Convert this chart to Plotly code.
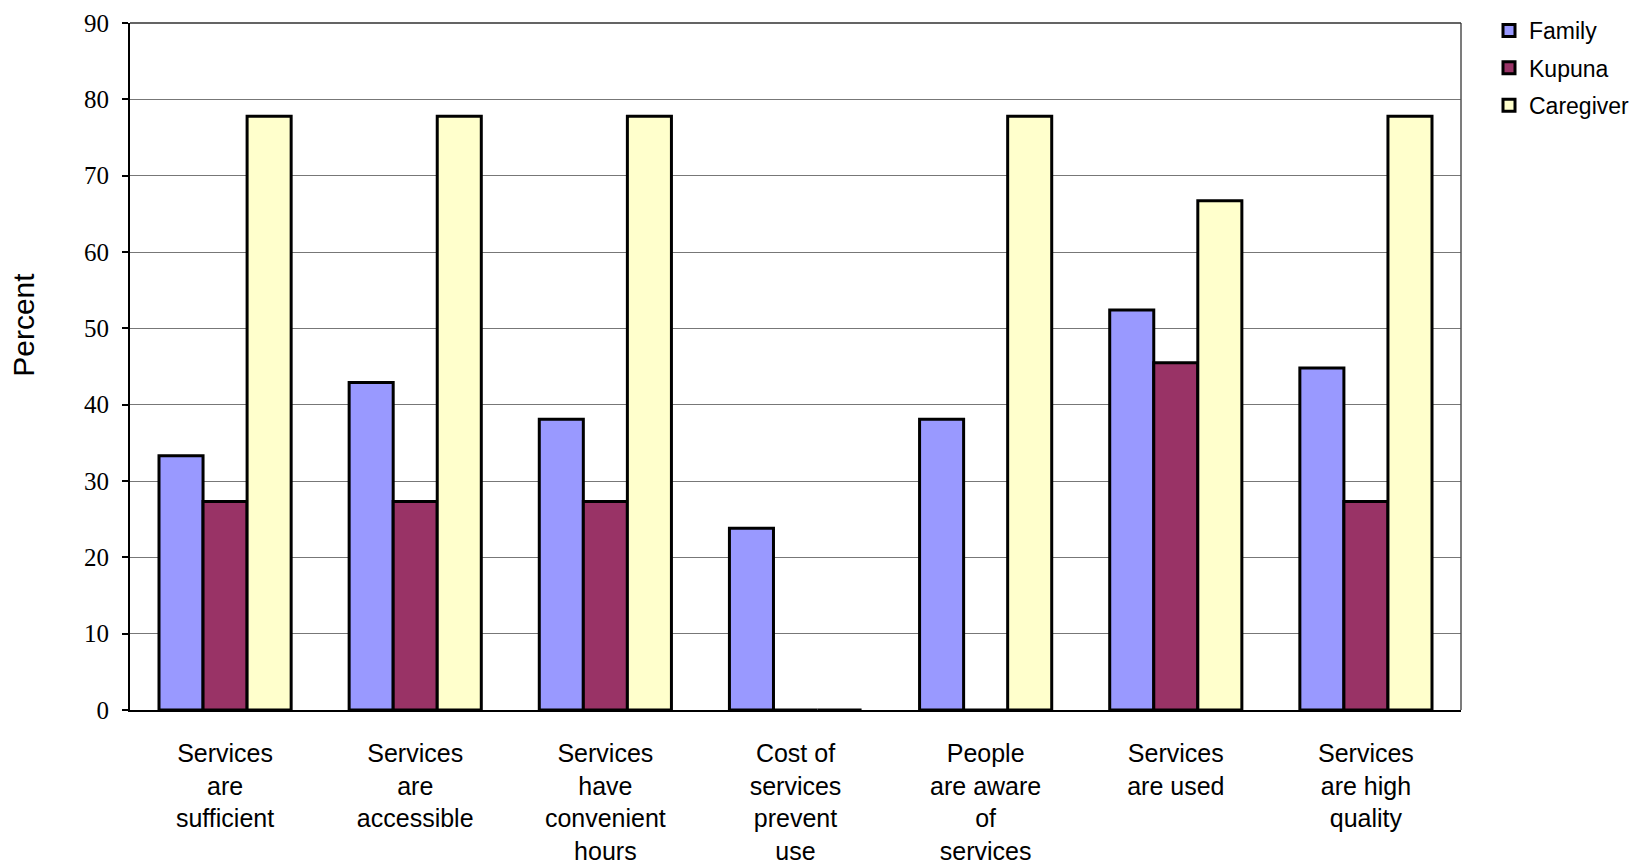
import plotly.graph_objects as go

categories = [
    "Services<br>are<br>sufficient",
    "Services<br>are<br>accessible",
    "Services<br>have<br>convenient<br>hours",
    "Cost of<br>services<br>prevent<br>use",
    "People<br>are aware<br>of<br>services",
    "Services<br>are used",
    "Services<br>are high<br>quality",
]
family = [33.3, 42.9, 38.1, 23.8, 38.1, 52.4, 44.8]
kupuna = [27.3, 27.3, 27.3, 0, 0, 45.5, 27.3]
caregiver = [77.8, 77.8, 77.8, 0, 77.8, 66.7, 77.8]
y_ticks = [0, 10, 20, 30, 40, 50, 60, 70, 80, 90]

series = [("Family", family, "#9999FF"), ("Kupuna", kupuna, "#993366"), ("Caregiver", caregiver, "#FFFFCC")]

fig = go.Figure()
for name, vals, col in series:
    fig.add_trace(go.Bar(
        name=name, x=categories, y=vals, legendgroup=name,
        marker=dict(color=col, line=dict(color="black", width=3)),
    ))

# page body has an 8px margin: figure starts at (8, 8) in the window
OFF = 8
W, H = 1637 - OFF, 863 - OFF
PL, PT, PR, PB = 130, 23, 1461, 710   # target plot area in window pixels
L, T = PL - OFF, PT - OFF
R = (W + OFF) - PR
B = (H + OFF) - PB

fig.update_layout(
    width=W, height=H,
    margin=dict(l=L, r=R, t=T, b=B, autoexpand=False),
    paper_bgcolor="white", plot_bgcolor="white",
    barmode="group", bargap=0.305, bargroupgap=0,
    showlegend=True,
    legend=dict(
        xref="container", yref="container",
        x=(1489 - OFF) / W, y=1 - 1 / H, xanchor="left", yanchor="top",
        font=dict(family="Liberation Sans, Arial", size=23, color="black"),
        bgcolor="rgba(0,0,0,0)", tracegroupgap=4.5,
    ),
    xaxis=dict(
        showline=True, linecolor="black", linewidth=2,
        ticks="", showgrid=False, automargin=False,
        tickfont=dict(family="Liberation Sans, Arial", size=25, color="black"),
        ticklabelstandoff=20,
    ),
    yaxis=dict(
        range=[0, 90], tickvals=y_ticks, ticktext=[str(v) for v in y_ticks],
        showline=True, linecolor="black", linewidth=2,
        ticks="outside", ticklen=6, tickcolor="black", tickwidth=1.5,
        showgrid=True, gridcolor="#777777", gridwidth=1,
        zeroline=False, automargin=False,
        tickfont=dict(family="Liberation Serif, Times New Roman", size=25, color="black"),
        ticklabelstandoff=8,
    ),
    annotations=[dict(
        text="Percent", xref="paper", yref="paper", x=-0.080, y=0.56,
        xanchor="center", yanchor="middle", textangle=-90, showarrow=False,
        font=dict(family="Liberation Sans, Arial", size=30, color="black"),
    )],
    shapes=[
        dict(type="line", xref="paper", yref="paper", x0=1, x1=1, y0=0, y1=1,
             line=dict(color="#505050", width=1.5)),
        dict(type="line", xref="paper", yref="paper", x0=0, x1=1, y0=1, y1=1,
             line=dict(color="#303030", width=1.5)),
    ],
)

fig.write_html("out.html")
